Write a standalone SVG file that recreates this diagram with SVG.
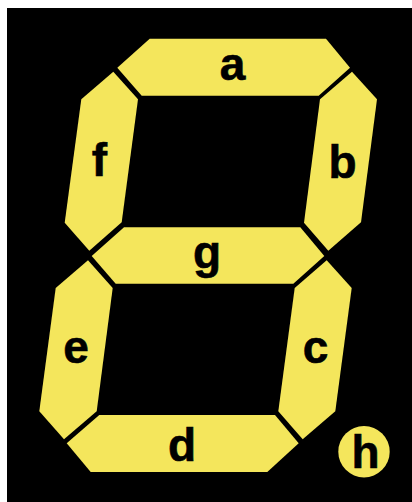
<svg xmlns="http://www.w3.org/2000/svg" width="412" height="502" viewBox="0 0 412 502">
<style>
.s{fill:#f4e65c}
text{font-family:"Liberation Sans",Arial,Helvetica,sans-serif;font-weight:700;font-size:46px;fill:#000;stroke:#000;stroke-width:.6px;text-anchor:middle}
</style>
<rect width="412" height="502" fill="#fff"/>
<rect x="7" y="8" width="405" height="494" fill="#000"/>
<g id="a"><polygon class="s" points="149.7,38.7 326,38.7 350,67.7 318.7,95.7 141.7,95.7 117.3,67.7"/><text x="232.5" y="79.5">a</text></g>
<g id="b"><polygon class="s" points="352,71.7 377,99.3 361,222.3 328.3,250.7 304,222.7 320,99.3"/><text x="342.5" y="177.5">b</text></g>
<g id="c"><polygon class="s" points="326.7,260.3 351.7,288 335.3,411.3 302.7,439.3 278.3,411.3 294.7,288"/><text x="315.5" y="362.5">c</text></g>
<g id="d"><polygon class="s" points="99.3,415 275,415 298.7,443.3 267.3,472 90.7,472 66.7,443.3"/><text x="182" y="460.5">d</text></g>
<g id="e"><polygon class="s" points="88,260.3 112.7,288 96.7,411.3 64,439.3 39.3,411.3 55.7,288"/><text x="76" y="362.5">e</text></g>
<g id="f"><polygon class="s" points="113.3,71.7 138,99.3 121.7,222.3 89.3,250.7 64.7,222.7 81.3,99.3"/><text x="99.5" y="175.5">f</text></g>
<g id="g"><polygon class="s" points="124,227.3 300.3,227.3 324.3,256 293.3,283.7 115.7,283.7 91.7,256"/><text x="207" y="267.5">g</text></g>
<g id="h"><circle class="s" cx="364" cy="451.7" r="25.7"/><text x="365.5" y="467.5">h</text></g>
</svg>
